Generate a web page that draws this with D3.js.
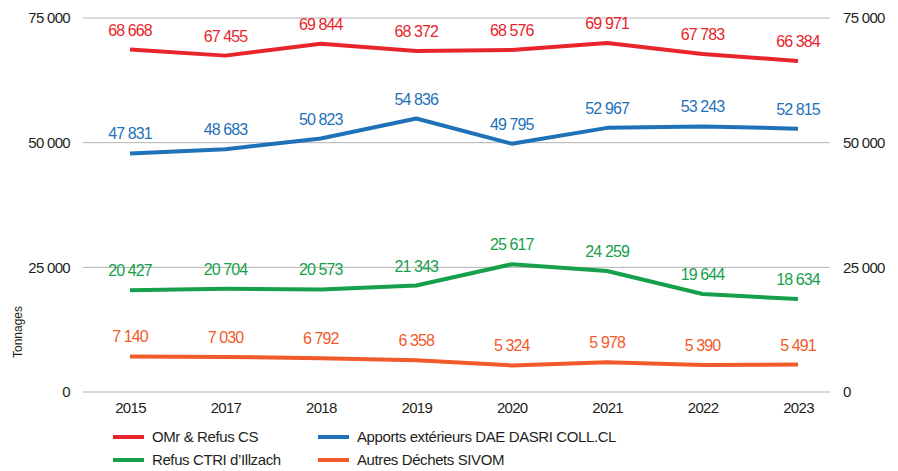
<!DOCTYPE html>
<html>
<head>
<meta charset="utf-8">
<script src="https://cdn.jsdelivr.net/npm/d3@7"></script>
<style>
  body { margin: 0; background: #fff; }
  svg { font-family: "Liberation Sans", Arial, sans-serif; }
</style>
</head>
<body>
<svg width="898" height="471"></svg>
<script>
// data
var years = ["2015", "2017", "2018", "2019", "2020", "2021", "2022", "2023"];
var seriesNames = ["OMr & Refus CS", "Apports extérieurs DAE DASRI COLL.CL", "Refus CTRI d\u2019Illzach", "Autres Déchets SIVOM"];
var omr     = [68668, 67455, 69844, 68372, 68576, 69971, 67783, 66384];
var apports = [47831, 48683, 50823, 54836, 49795, 52967, 53243, 52815];
var ctri    = [20427, 20704, 20573, 21343, 25617, 24259, 19644, 18634];
var autres  = [7140, 7030, 6792, 6358, 5324, 5978, 5390, 5491];
var yTicks  = [0, 25000, 50000, 75000];
var colors  = ["#e8252c", "#1f72b8", "#17a04b", "#f15a2a"];

var series = [omr, apports, ctri, autres].map(function(v, i) {
    return { name: seriesNames[i], color: colors[i], values: v };
});

var svg = d3.select("svg");
var fr = d3.formatLocale({ decimal: ",", thousands: " ", grouping: [3], currency: ["", " €"] });
var fmt = fr.format(",d");

var x = d3.scalePoint().domain(years).range([130, 798]);
var y = d3.scaleLinear().domain([0, 75000]).range([392, 18]);

// gridlines
svg.append("g")
    .selectAll("line")
    .data(yTicks)
    .enter().append("line")
        .attr("x1", 83)
        .attr("x2", 830)
        .attr("y1", function(d) { return y(d); })
        .attr("y2", function(d) { return y(d); })
        .attr("stroke", "#b3b3b3")
        .attr("stroke-width", 1);

// left axis
var left = svg.append("g")
    .attr("transform", "translate(70,0)")
    .call(d3.axisLeft(y).tickValues(yTicks).tickFormat(fmt).tickSize(0).tickPadding(0));
left.select(".domain").remove();

// right axis
var right = svg.append("g")
    .attr("transform", "translate(843,0)")
    .call(d3.axisRight(y).tickValues(yTicks).tickFormat(fmt).tickSize(0).tickPadding(0));
right.select(".domain").remove();

// bottom axis
var bottom = svg.append("g")
    .attr("transform", "translate(0,402)")
    .call(d3.axisBottom(x).tickSize(0).tickPadding(0));
bottom.select(".domain").remove();

svg.selectAll(".tick text")
    .style("font-size", "15px")
    .attr("fill", "#231f20")
    .style("letter-spacing", "-0.7px");

// y title
svg.append("text")
    .attr("transform", "translate(22,332) rotate(-90)")
    .attr("text-anchor", "middle")
    .style("font-size", "12px")
    .attr("fill", "#231f20")
    .text("Tonnages");

var line = d3.line()
    .x(function(d, i) { return x(years[i]); })
    .y(function(d) { return y(d); });

var s = svg.selectAll(".serie")
    .data(series)
    .enter().append("g")
        .attr("class", "serie");

s.append("path")
    .attr("d", function(d) { return line(d.values); })
    .attr("fill", "none")
    .attr("stroke", function(d) { return d.color; })
    .attr("stroke-width", 4)
    .attr("stroke-linejoin", "round");

// value labels
s.selectAll("text")
    .data(function(d) { return d.values.map(function(v, i) { return { v: v, i: i, c: d.color }; }); })
    .enter().append("text")
        .attr("x", function(d) { return x(years[d.i]); })
        .attr("y", function(d) { return y(d.v) - 14; })
        .attr("text-anchor", "middle")
        .attr("fill", function(d) { return d.c; })
        .style("font-size", "16px")
        .style("letter-spacing", "-0.9px")
        .text(function(d) { return fmt(d.v); });

// legend
var legPos = [[113, 437], [318, 437], [113, 460], [318, 460]];
var leg = svg.selectAll(".leg")
    .data(series)
    .enter().append("g")
        .attr("class", "leg")
        .attr("transform", function(d, i) { return "translate(" + legPos[i][0] + "," + legPos[i][1] + ")"; });

leg.append("line")
    .attr("x1", 0)
    .attr("x2", 31)
    .attr("stroke", function(d) { return d.color; })
    .attr("stroke-width", 4);

leg.append("text")
    .attr("x", 39)
    .attr("dy", "0.35em")
    .style("font-size", "15px")
    .style("letter-spacing", "-0.4px")
    .attr("fill", "#231f20")
    .text(function(d) { return d.name; });
</script>
</body>
</html>
